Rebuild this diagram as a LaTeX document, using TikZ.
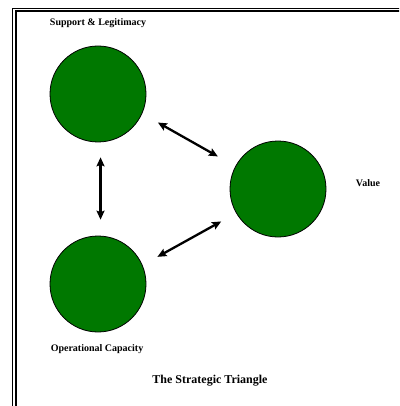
\documentclass[tikz,border=0pt]{standalone}
\usepackage{fontspec}
\setmainfont{Liberation Serif}
\usetikzlibrary{arrows.meta}
\definecolor{tri}{HTML}{007800}

\begin{document}
\begin{tikzpicture}[x=1pt, y=-1pt, >={Stealth[length=9pt, width=8pt, inset=1.5pt]},
      font=\bfseries\fontsize{10}{12}\selectfont]
    \useasboundingbox (0,0) rectangle (399,406);
    \clip (0,0) rectangle (399,406);
    % frame, only top and left show
    \draw[line width=0.9pt] (12.5,8.5) rectangle (430,430);
    \draw[line width=2pt] (15.5,11.5) rectangle (430,430);
    \foreach \n/\x/\y in {sup/98/94, val/278/189, ops/98/284}{
      \node[circle, draw=black, fill=tri, line width=0.8pt,
            minimum size=96pt, inner sep=0pt] (\n) at (\x,\y) {};
    }
    \draw[<->, line width=2.3pt, shorten <=18pt, shorten >=20pt] (sup.-24) -- (val.152);
    \draw[<->, line width=2.3pt, shorten <=17pt, shorten >=17pt] (ops.23) -- (val.210);
    \draw[<->, line width=2.3pt, shorten <=15pt, shorten >=16pt] (sup.-87) -- (ops.87);
    \node (lsup) at (98,23) {Support \& Legitimacy};
    \node (lval) at (368,183) {Value};
    \node (lops) at (97,349) {Operational Capacity};
    \node[font=\bfseries\fontsize{12}{14}\selectfont] (ttl) at (210,381) {The Strategic Triangle};
  \end{tikzpicture}
\end{document}
